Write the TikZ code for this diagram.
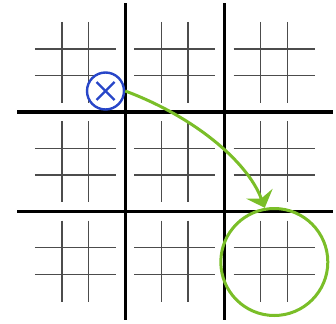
\documentclass[tikz,border=0pt]{standalone}
\usetikzlibrary{arrows.meta}
\definecolor{xblue}{RGB}{40,70,200}
\definecolor{mgreen}{RGB}{122,190,40}
\tikzset{
  bigline/.style={line width=3pt, black},
  smallline/.style={line width=1.3pt, black!70},
  xmark/.style={circle, draw=xblue, line width=2.4pt, minimum size=37pt, inner sep=0pt},
  xcross/.style={line width=2.4pt, xblue},
  target/.style={circle, draw=mgreen, line width=3pt, minimum size=107pt, inner sep=0pt},
  movearrow/.style={mgreen, line width=3pt, -{Stealth[length=15pt, width=28pt, inset=5pt]}},
}
\newcommand{\smallgrid}[2]{%
  \draw[smallline] (#1-13.3,#2-40.5) -- (#1-13.3,#2+40.5);
  \draw[smallline] (#1+13.3,#2-40.5) -- (#1+13.3,#2+40.5);
  \draw[smallline] (#1-40.5,#2-13.3) -- (#1+40.5,#2-13.3);
  \draw[smallline] (#1-40.5,#2+13.3) -- (#1+40.5,#2+13.3);
}
\begin{document}
\begin{tikzpicture}[x=1pt, y=-1pt]
\useasboundingbox (0,0) rectangle (336,323);
% small grids
\foreach \cx in {75.3,174.7,274} {
  \foreach \cy in {62.3,161.7,261} {
    \smallgrid{\cx}{\cy}
  }
}
% big grid
\draw[bigline] (125.3,3.5) -- (125.3,320);
\draw[bigline] (224.7,3.5) -- (224.7,320);
\draw[bigline] (17,112) -- (333,112);
\draw[bigline] (17,211.3) -- (333,211.3);
% blue X
\node[xmark, fill=white] (xo) at (105.5,91) {};
\draw[xcross] ([shift={(-9pt,9pt)}]xo.center) -- ([shift={(9pt,-9pt)}]xo.center);
\draw[xcross] ([shift={(-9pt,-9pt)}]xo.center) -- ([shift={(9pt,9pt)}]xo.center);
% target circle
\node[target] (tg) at (274.3,262) {};
% arrow
\draw[movearrow] (xo.east) .. controls +(66,24.5) and +(-18,-48) .. (tg.100);
\end{tikzpicture}
\end{document}
